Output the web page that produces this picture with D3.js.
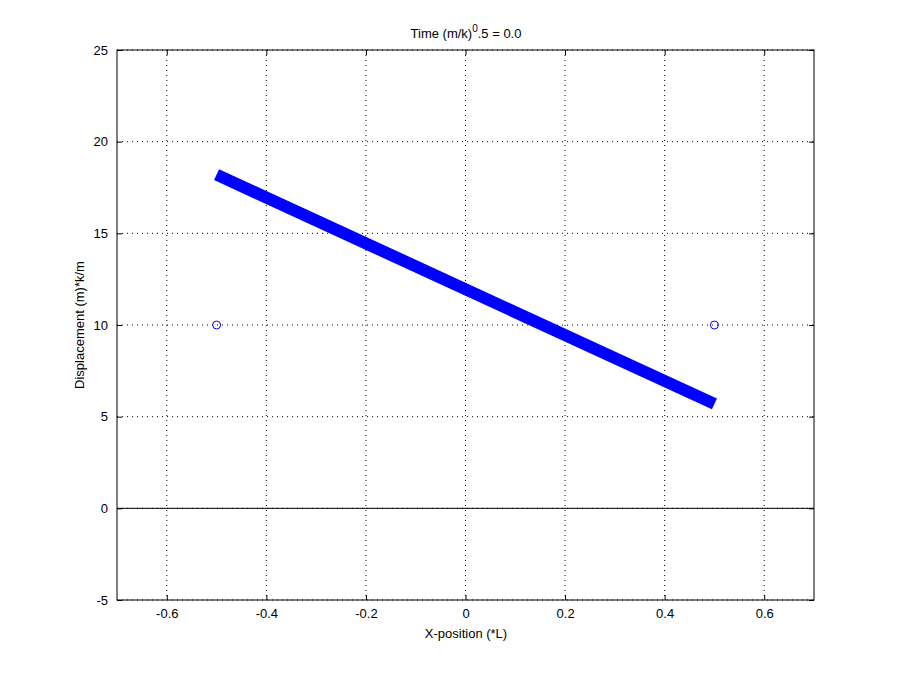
<!DOCTYPE html><html><head><meta charset="utf-8"><script src="https://d3js.org/d3.v7.min.js"></script>
<style>body{margin:0;background:#fff}text{font-family:"Liberation Sans",Arial,sans-serif;font-size:13px}</style></head><body><svg id="c" width="900" height="675"></svg>
<script>
const xTicks=[-0.6,-0.4,-0.2,0,0.2,0.4,0.6];
const yTicks=[-5,0,5,10,15,20,25];
const barX=[-0.5,0.5];
const barY=[18.2,5.7];
const massX=[-0.5,0.5];
const massY=[10,10];
const svg=d3.select("#c");
const x=d3.scaleLinear().domain([-0.7,0.7]).range([117,814]);
const y=d3.scaleLinear().domain([-5,25]).range([600,50]);
const g=svg.append("g");
xTicks.forEach(t=>g.append("line").attr("x1",x(t)).attr("x2",x(t)).attr("y1",50).attr("y2",600).attr("stroke","#000").attr("stroke-width",1).attr("stroke-dasharray","1,4"));
yTicks.forEach(t=>g.append("line").attr("y1",y(t)).attr("y2",y(t)).attr("x1",117).attr("x2",814).attr("stroke","#000").attr("stroke-width",1).attr("stroke-dasharray","1,4"));
g.append("line").attr("x1",117).attr("x2",814).attr("y1",y(0)).attr("y2",y(0)).attr("stroke","#000");
g.append("rect").attr("x",117).attr("y",50).attr("width",697).attr("height",550).attr("fill","none").attr("stroke","#000");
const fx=d=>d===0?"0":d3.format(".1f")(d).replace("−","-");
const fy=d=>String(d);
const xa=svg.append("g").attr("transform","translate(0,600)").call(d3.axisBottom(x).tickValues(xTicks).tickSize(-5).tickPadding(9).tickFormat(fx));
const ya=svg.append("g").attr("transform","translate(117,0)").call(d3.axisLeft(y).tickValues(yTicks).tickSize(-5).tickPadding(9).tickFormat(fy));
[xa,ya].forEach(a=>{a.select(".domain").remove();a.selectAll("text").style("font-size","13px").style("font-family","Liberation Sans, Arial, sans-serif");});
svg.append("g").attr("transform","translate(0,50)").call(d3.axisTop(x).tickValues(xTicks).tickSize(-5).tickFormat("")).select(".domain").remove();
svg.append("g").attr("transform","translate(814,0)").call(d3.axisRight(y).tickValues(yTicks).tickSize(-5).tickFormat("")).select(".domain").remove();
svg.append("path").datum(barX.map((d,i)=>[d,barY[i]])).attr("d",d3.line().x(d=>x(d[0])).y(d=>y(d[1]))).attr("stroke","#0000ff").attr("stroke-width",12).attr("fill","none");
massX.forEach((d,i)=>svg.append("circle").attr("cx",x(d)).attr("cy",y(massY[i])).attr("r",4).attr("fill","none").attr("stroke","#0000ff").attr("stroke-width",1));
const t=svg.append("text").attr("x",466).attr("y",38).attr("text-anchor","middle");
t.append("tspan").text("Time (m/k)");t.append("tspan").attr("dy",-6).style("font-size","10px").text("0");t.append("tspan").attr("dy",6).text(".5 = 0.0");
svg.append("text").attr("x",466).attr("y",638).attr("text-anchor","middle").text("X-position (*L)");
svg.append("text").attr("transform","translate(84,325) rotate(-90)").attr("text-anchor","middle").text("Displacement (m)*k/m");
</script></body></html>
